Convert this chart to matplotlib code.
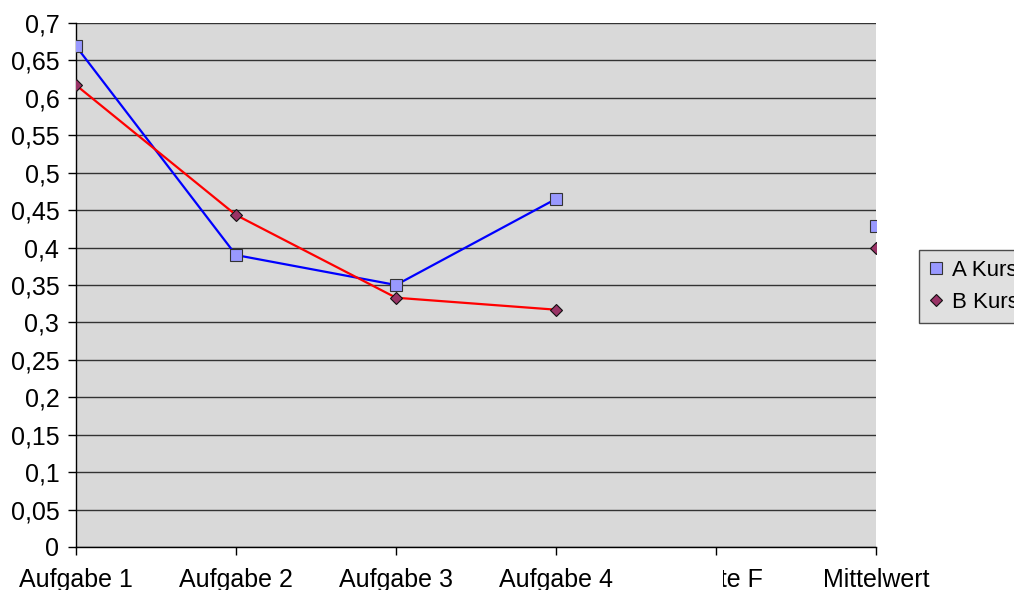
import numpy as np
import matplotlib
matplotlib.use("Agg")
import matplotlib.pyplot as plt
from matplotlib.ticker import FuncFormatter, MultipleLocator
from matplotlib.transforms import Bbox, ScaledTranslation, blended_transform_factory

plt.rcParams['font.family'] = ['Liberation Sans', 'DejaVu Sans']

categories = ["Aufgabe 1", "Aufgabe 2", "Aufgabe 3", "Aufgabe 4", "Note F", "Mittelwert"]
a_kurs = [0.669, 0.390, 0.350, 0.465, np.nan, 0.429]
b_kurs = [0.617, 0.4435, 0.333, 0.317, np.nan, 0.400]

fig = plt.figure(figsize=(10.14, 5.90), dpi=100)
ax = fig.add_axes([76 / 1014, 43 / 590, 800 / 1014, 524 / 590])
ax.set_facecolor('#d9d9d9')

x = np.arange(len(categories))
ax.plot(x, a_kurs, color='#0000ff', lw=1.6, marker='s', ms=8,
        mfc='#9999ff', mec='#333333', mew=0.8, label='A Kurs', zorder=3)
ax.plot(x, b_kurs, color='#ff0000', lw=1.6, marker='D', ms=6,
        mfc='#993366', mec='#111111', mew=0.8, label='B Kurs', zorder=3)

ax.set_xlim(0, 5)
ax.set_ylim(0, 0.7)
ax.yaxis.set_major_locator(MultipleLocator(0.05))
ax.yaxis.set_major_formatter(FuncFormatter(lambda v, p: f"{v:.2f}".rstrip('0').rstrip('.').replace('.', ',')))
ax.grid(axis='y', color='#333333', lw=1)
ax.set_axisbelow(True)

tick_len = 6
x_pad = 9
ax.set_xticks(x)
labels = categories[:]
labels[4] = ""
ax.set_xticklabels(labels)
ax.tick_params(axis='both', direction='out', length=tick_len, width=1, labelsize=18, color='black')
ax.tick_params(axis='x', pad=x_pad)
ax.tick_params(axis='y', pad=6)

for side in ['top', 'right']:
    ax.spines[side].set_visible(False)
for side in ['left', 'bottom']:
    ax.spines[side].set_color('black')
    ax.spines[side].set_linewidth(1)

# fifth category label, partly hidden on its left side
trans = blended_transform_factory(ax.transData, ax.transAxes) + \
    ScaledTranslation(0.47, -(tick_len + x_pad) / 72, fig.dpi_scale_trans)
t = ax.text(4, 0, categories[4], transform=trans, ha='right', va='top',
            fontsize=18, clip_on=True)
t.set_clip_box(Bbox.from_extents(723, 0, 1014, 60))

leg = ax.legend(loc='upper left', bbox_to_anchor=(919 / 1014, 340 / 590),
                bbox_transform=fig.transFigure, fontsize=16, frameon=True,
                fancybox=False, borderaxespad=0, handlelength=0.6,
                handletextpad=0.45, borderpad=0.45, labelspacing=0.5)
leg.get_frame().set_facecolor('#d9d9d9')
leg.get_frame().set_edgecolor('#222222')
leg.get_frame().set_linewidth(1)
for h in leg.legend_handles:
    h.set_linestyle('none')

fig.savefig('out.png', dpi=100)
